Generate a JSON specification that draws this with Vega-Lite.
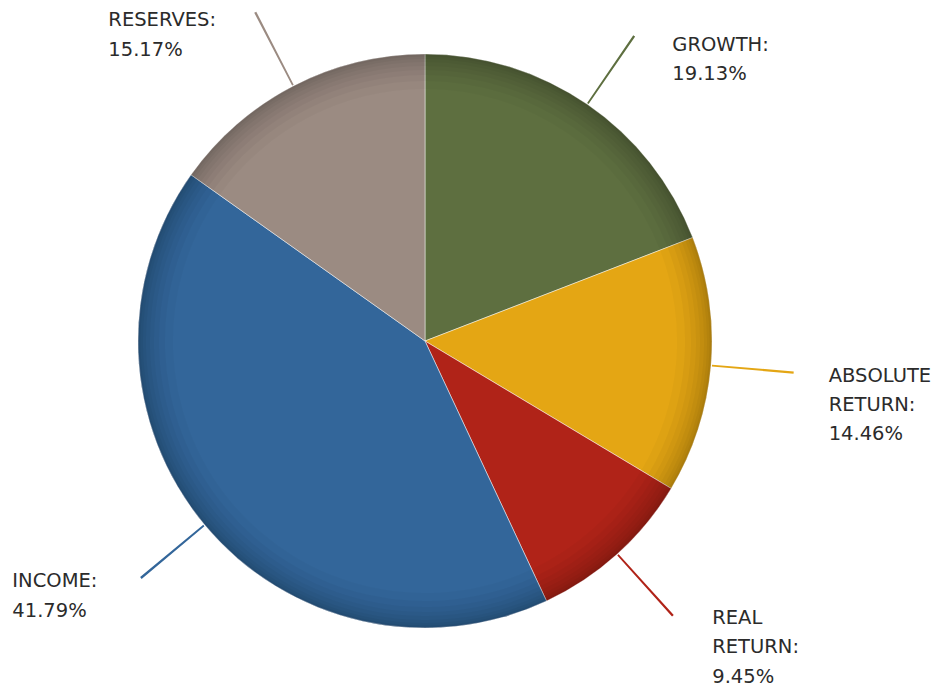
{
  "$schema": "https://vega.github.io/schema/vega-lite/v6.json",
  "autosize": {"type": "none"},
  "width": 850,
  "height": 682,
  "padding": {"left": 0, "top": 0, "right": 89, "bottom": 9},
  "background": "white",
  "config": {"view": {"stroke": null}},
  "data": {
    "values": [
      {"name": "GROWTH", "value": 19.13, "rank": 1, "label": "GROWTH:\n19.13%"},
      {"name": "ABSOLUTE RETURN", "value": 14.46, "rank": 2, "label": "ABSOLUTE\nRETURN:\n14.46%"},
      {"name": "REAL RETURN", "value": 9.45, "rank": 3, "label": "REAL\nRETURN:\n9.45%"},
      {"name": "INCOME", "value": 41.79, "rank": 4, "label": "INCOME:\n41.79%"},
      {"name": "RESERVES", "value": 15.17, "rank": 5, "label": "RESERVES:\n15.17%"}
    ]
  },
  "layer": [
    {
      "mark": {"type": "arc", "radius": 287, "stroke": "#ffffff", "strokeWidth": 0.6, "strokeOpacity": 0.8},
      "encoding": {
        "theta": {"field": "value", "type": "quantitative", "stack": true, "scale": {"domain": [0, 100]}},
        "order": {"field": "rank", "type": "quantitative", "sort": "ascending"},
        "fill": {
          "field": "name", "type": "nominal", "legend": null,
          "scale": {
            "domain": ["GROWTH", "ABSOLUTE RETURN", "REAL RETURN", "INCOME", "RESERVES"],
            "range": ["#5e6f40", "#e4a614", "#b02318", "#33669a", "#9b8b82"]
          }
        }
      }
    },
    {
      "mark": {"type": "arc", "radius": 287, "radius2": 252, "fill": "#000000", "fillOpacity": 0.025, "stroke": null},
      "encoding": {
        "theta": {"field": "value", "type": "quantitative", "stack": true, "scale": {"domain": [0, 100]}},
        "order": {"field": "rank", "type": "quantitative", "sort": "ascending"}
      }
    },
    {
      "mark": {"type": "arc", "radius": 287, "radius2": 260, "fill": "#000000", "fillOpacity": 0.03, "stroke": null},
      "encoding": {
        "theta": {"field": "value", "type": "quantitative", "stack": true, "scale": {"domain": [0, 100]}},
        "order": {"field": "rank", "type": "quantitative", "sort": "ascending"}
      }
    },
    {
      "mark": {"type": "arc", "radius": 287, "radius2": 266, "fill": "#000000", "fillOpacity": 0.03, "stroke": null},
      "encoding": {
        "theta": {"field": "value", "type": "quantitative", "stack": true, "scale": {"domain": [0, 100]}},
        "order": {"field": "rank", "type": "quantitative", "sort": "ascending"}
      }
    },
    {
      "mark": {"type": "arc", "radius": 287, "radius2": 271, "fill": "#000000", "fillOpacity": 0.03, "stroke": null},
      "encoding": {
        "theta": {"field": "value", "type": "quantitative", "stack": true, "scale": {"domain": [0, 100]}},
        "order": {"field": "rank", "type": "quantitative", "sort": "ascending"}
      }
    },
    {
      "mark": {"type": "arc", "radius": 287, "radius2": 275, "fill": "#000000", "fillOpacity": 0.03, "stroke": null},
      "encoding": {
        "theta": {"field": "value", "type": "quantitative", "stack": true, "scale": {"domain": [0, 100]}},
        "order": {"field": "rank", "type": "quantitative", "sort": "ascending"}
      }
    },
    {
      "mark": {"type": "arc", "radius": 287, "radius2": 279, "fill": "#000000", "fillOpacity": 0.03, "stroke": null},
      "encoding": {
        "theta": {"field": "value", "type": "quantitative", "stack": true, "scale": {"domain": [0, 100]}},
        "order": {"field": "rank", "type": "quantitative", "sort": "ascending"}
      }
    },
    {
      "mark": {"type": "arc", "radius": 287, "radius2": 282, "fill": "#000000", "fillOpacity": 0.035, "stroke": null},
      "encoding": {
        "theta": {"field": "value", "type": "quantitative", "stack": true, "scale": {"domain": [0, 100]}},
        "order": {"field": "rank", "type": "quantitative", "sort": "ascending"}
      }
    },
    {
      "mark": {"type": "arc", "radius": 287, "radius2": 284.5, "fill": "#000000", "fillOpacity": 0.04, "stroke": null},
      "encoding": {
        "theta": {"field": "value", "type": "quantitative", "stack": true, "scale": {"domain": [0, 100]}},
        "order": {"field": "rank", "type": "quantitative", "sort": "ascending"}
      }
    },
    {
      "transform": [
        {"stack": "value", "groupby": [], "sort": [{"field": "rank", "order": "ascending"}], "as": ["v0", "v1"]},
        {"calculate": "(datum.v0 + datum.v1) / 2 - 0.05", "as": "m0"},
        {"calculate": "(datum.v0 + datum.v1) / 2 + 0.05", "as": "m1"}
      ],
      "mark": {"type": "arc", "radius": 370, "radius2": 288, "stroke": null},
      "encoding": {
        "theta": {"field": "m0", "type": "quantitative", "stack": null, "scale": {"domain": [0, 100]}},
        "theta2": {"field": "m1"},
        "fill": {"field": "name", "type": "nominal", "legend": null}
      }
    },
    {
      "mark": {"type": "text", "radius": 372, "align": "left", "baseline": "top", "dx": 37, "dy": 2, "font": "DejaVu Sans", "fontSize": 19.5, "lineHeight": 29.3, "lineBreak": "\n", "fill": "#2b2b2b"},
      "encoding": {
        "theta": {"field": "value", "type": "quantitative", "stack": true, "scale": {"domain": [0, 100]}},
        "order": {"field": "rank", "type": "quantitative", "sort": "ascending"},
        "text": {"condition": {"test": "datum.name === 'GROWTH'", "field": "label", "type": "nominal"}, "value": ""}
      }
    },
    {
      "mark": {"type": "text", "radius": 372, "align": "left", "baseline": "top", "dx": 33, "dy": -6, "font": "DejaVu Sans", "fontSize": 19.5, "lineHeight": 29.3, "lineBreak": "\n", "fill": "#2b2b2b"},
      "encoding": {
        "theta": {"field": "value", "type": "quantitative", "stack": true, "scale": {"domain": [0, 100]}},
        "order": {"field": "rank", "type": "quantitative", "sort": "ascending"},
        "text": {"condition": {"test": "datum.name === 'ABSOLUTE RETURN'", "field": "label", "type": "nominal"}, "value": ""}
      }
    },
    {
      "mark": {"type": "text", "radius": 372, "align": "left", "baseline": "top", "dx": 38, "dy": -8, "font": "DejaVu Sans", "fontSize": 19.5, "lineHeight": 29.3, "lineBreak": "\n", "fill": "#2b2b2b"},
      "encoding": {
        "theta": {"field": "value", "type": "quantitative", "stack": true, "scale": {"domain": [0, 100]}},
        "order": {"field": "rank", "type": "quantitative", "sort": "ascending"},
        "text": {"condition": {"test": "datum.name === 'REAL RETURN'", "field": "label", "type": "nominal"}, "value": ""}
      }
    },
    {
      "mark": {"type": "text", "radius": 372, "align": "left", "baseline": "top", "dx": -127, "dy": -7, "font": "DejaVu Sans", "fontSize": 19.5, "lineHeight": 29.3, "lineBreak": "\n", "fill": "#2b2b2b"},
      "encoding": {
        "theta": {"field": "value", "type": "quantitative", "stack": true, "scale": {"domain": [0, 100]}},
        "order": {"field": "rank", "type": "quantitative", "sort": "ascending"},
        "text": {"condition": {"test": "datum.name === 'INCOME'", "field": "label", "type": "nominal"}, "value": ""}
      }
    },
    {
      "mark": {"type": "text", "radius": 372, "align": "left", "baseline": "top", "dx": -146, "dy": 1, "font": "DejaVu Sans", "fontSize": 19.5, "lineHeight": 29.3, "lineBreak": "\n", "fill": "#2b2b2b"},
      "encoding": {
        "theta": {"field": "value", "type": "quantitative", "stack": true, "scale": {"domain": [0, 100]}},
        "order": {"field": "rank", "type": "quantitative", "sort": "ascending"},
        "text": {"condition": {"test": "datum.name === 'RESERVES'", "field": "label", "type": "nominal"}, "value": ""}
      }
    }
  ]
}
